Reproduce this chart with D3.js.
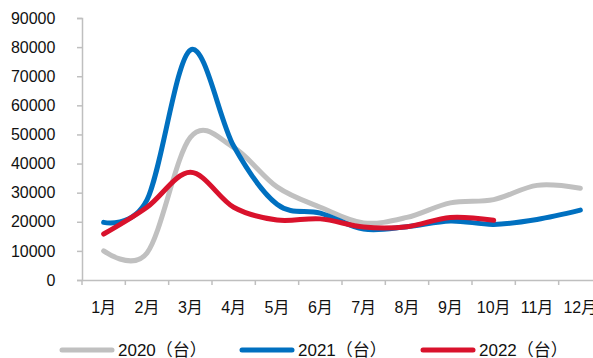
<!DOCTYPE html>
<html><head><meta charset="utf-8">
<script src="https://cdn.jsdelivr.net/npm/d3@7"></script>
<style>body{margin:0;background:#fff}svg{display:block}text{font-family:"Liberation Sans",Arial,"Noto Sans CJK SC",sans-serif;fill:#111}</style>
</head><body><svg id="c" width="593" height="358"></svg>
<script>
const months = ["1月","2月","3月","4月","5月","6月","7月","8月","9月","10月","11月","12月"];
const yTicks = [0,10000,20000,30000,40000,50000,60000,70000,80000,90000];
const s2020 = [10000, 9300, 49000, 45500, 32000, 25000, 19600, 21500, 26500, 27600, 32500, 31500];
const s2021 = [19800, 27500, 79000, 46000, 26000, 23000, 17500, 18300, 20300, 19100, 20800, 24000];
const s2022 = [15800, 25000, 37000, 25000, 20600, 21000, 18200, 18300, 21500, 20500];
const seriesNames = ["2020（台）","2021（台）","2022（台）"];
const colors = ["#c0c0c0","#0070c0","#d9122c"];

const svg = d3.select("#c");
const x = d3.scaleBand().domain(months).range([82, 602]);
const y = d3.scaleLinear().domain([0, 90000]).range([280, 18]);
const axisColor = "#bfbfbf";

const gy = svg.append("g").attr("transform","translate(82,0)")
  .call(d3.axisLeft(y).tickValues(yTicks).tickSize(5).tickPadding(20).tickFormat(d3.format("d")));
gy.selectAll("path,line").attr("stroke",axisColor).attr("stroke-width",1.5);
gy.selectAll("text").attr("font-size",16).attr("fill","#111").attr("dx","-0.1em");

const gx = svg.append("g").attr("transform","translate(0,280)")
  .call(d3.axisBottom(x).tickSize(0).tickPadding(22));
gx.select("path").attr("stroke",axisColor).attr("stroke-width",1.5);
gx.selectAll("text").attr("font-size",16).attr("fill","#111");
gx.selectAll(".bt").data(months).enter().append("line").attr("class","bt")
  .attr("x1",d=>x(d)).attr("x2",d=>x(d)).attr("y1",0).attr("y2",5)
  .attr("stroke",axisColor).attr("stroke-width",1.5);

const line = d3.line().x((d,i)=>x(months[i])+x.bandwidth()/2).y(d=>y(d)).curve(d3.curveCardinal.tension(0));
[s2020,s2021,s2022].forEach((s,k)=>{
  svg.append("path").datum(s).attr("d",line).attr("fill","none")
    .attr("stroke",colors[k]).attr("stroke-width",5).attr("stroke-linecap","round").attr("stroke-linejoin","round");
});

const legX = [62, 242, 423];
seriesNames.forEach((n,k)=>{
  const g = svg.append("g").attr("transform",`translate(${legX[k]},350)`);
  g.append("line").attr("x1",0).attr("x2",50).attr("y1",0).attr("y2",0)
    .attr("stroke",colors[k]).attr("stroke-width",5).attr("stroke-linecap","round");
  g.append("text").attr("x",56).attr("y",6).attr("font-size",17).text(n);
});
</script></body></html>
